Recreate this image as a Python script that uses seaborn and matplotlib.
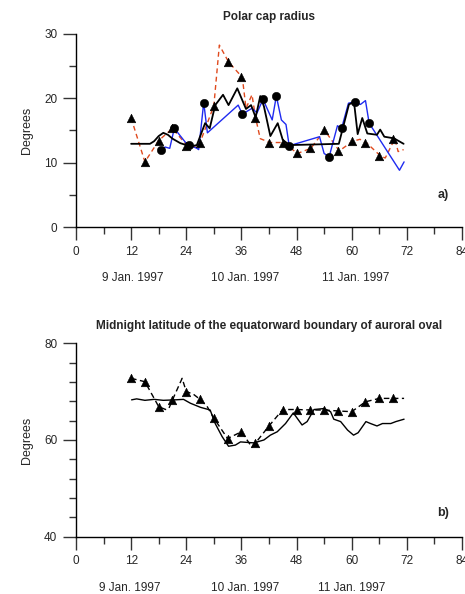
import numpy as np
import pandas as pd
import matplotlib
matplotlib.use("Agg")
import matplotlib.pyplot as plt
from matplotlib.ticker import MultipleLocator
import seaborn as sns

# ---------------- Panel a: polar cap radius (degrees) ----------------
# dashed red curve
red_t = [12, 15, 18, 21, 24.3, 26.3, 27, 30, 31.2, 33.2, 36.2, 37.0, 38.3, 39.1,
         40.1, 42.2, 45.2, 48.2, 51.1, 54.1, 57.3, 60.2, 61.8, 63.3, 66.3, 67.3,
         69.4, 70.1, 71.3]
red_v = [16.9, 10.1, 13.4, 15.3, 12.5, 12.4, 13.1, 18.8, 28.2, 25.6, 23.2, 18.4,
         20.5, 16.9, 13.7, 13.1, 13.1, 11.4, 12.2, 15.0, 11.8, 13.3, 13.6, 13.0,
         11.0, 10.7, 13.7, 11.7, 12.0]
# triangle markers (3-hourly)
tri_t = [12, 15, 18, 21, 24, 27, 30, 33, 36, 39, 42, 45, 48, 51, 54, 57, 60, 63, 66, 69]
tri_v = [16.9, 10.1, 13.4, 15.3, 12.6, 13.1, 18.8, 25.6, 23.2, 16.9, 13.1, 13.1,
         11.4, 12.2, 15.0, 11.8, 13.3, 13.0, 11.0, 13.7]
# blue curve
blue_t = [18.5, 19.4, 20.4, 21.4, 24.3, 24.7, 26.3, 26.7, 27.8, 28.6, 35.3, 36.2,
          38.3, 39.4, 40.7, 42.7, 43.6, 44.7, 45.7, 46.4, 53.0, 54.0, 55.1, 56.9,
          57.8, 59.3, 60.7, 61.9, 63.0, 63.8, 70.4, 71.4]
blue_v = [11.9, 12.4, 12.2, 15.3, 12.7, 12.7, 12.2, 12.0, 19.3, 14.6, 18.9, 17.5,
          18.4, 17.7, 19.8, 16.6, 20.3, 16.6, 15.9, 12.6, 14.0, 11.4, 10.9, 15.7,
          15.3, 19.2, 19.4, 19.0, 19.6, 16.1, 8.8, 10.1]
# circle markers
circ_t = [18.5, 21.4, 24.6, 27.8, 36.2, 40.7, 43.6, 46.4, 55.1, 57.8, 60.7, 63.8]
circ_v = [11.9, 15.3, 12.7, 19.3, 17.5, 19.8, 20.3, 12.6, 10.9, 15.3, 19.4, 16.1]
# black curve
blk_t = [12.0, 16.1, 17.0, 18.0, 19.0, 20.0, 21.0, 22.7, 24.9, 26.3, 28.1, 29.1,
         30.3, 32.0, 33.2, 35.1, 37.0, 38.1, 39.1, 40.1, 40.9, 42.3, 43.9, 45.0,
         46.5, 57.2, 59.4, 60.5, 61.3, 62.3, 63.4, 65.5, 66.2, 67.1, 69.2, 71.3]
blk_v = [12.9, 12.9, 13.3, 14.1, 14.6, 14.3, 13.7, 13.0, 12.5, 12.7, 16.1, 15.3,
         18.9, 20.5, 18.9, 21.5, 18.3, 18.9, 17.0, 20.3, 18.7, 14.1, 16.1, 13.5,
         12.7, 12.9, 19.0, 19.4, 14.4, 16.9, 14.5, 14.3, 15.1, 14.0, 13.75, 12.9]

# ---------------- Panel b: midnight equatorward boundary latitude ----------------
dash_t = [12, 15, 18, 19.5, 20.2, 21, 23.1, 24, 25.5, 27, 28.5, 30, 33, 36, 38.3,
          39, 42, 45, 48, 51, 54, 57, 60, 63, 66, 69, 71.4]
dash_v = [72.75, 72.05, 66.9, 66.3, 66.5, 68.3, 72.75, 70.0, 69.5, 68.4, 67.0, 64.5,
          60.3, 61.7, 58.5, 59.3, 62.9, 66.3, 66.3, 66.2, 66.2, 66.0, 65.85, 67.9,
          68.6, 68.6, 68.6]
btri_t = [12, 15, 18, 21, 24, 27, 30, 33, 36, 39, 42, 45, 48, 51, 54, 57, 60, 63, 66, 69]
btri_v = [72.75, 72.05, 66.9, 68.3, 70.0, 68.4, 64.5, 60.3, 61.7, 59.3, 62.9, 66.3,
          66.3, 66.2, 66.2, 66.0, 65.85, 67.9, 68.6, 68.6]
sol_t = [12.1, 13.2, 15.0, 17.0, 19.0, 21.6, 23.4, 24.9, 27.1, 29.2, 30.3, 31.8,
         33.2, 34.7, 35.8, 38.7, 40.9, 42.3, 43.8, 45.6, 47.3, 49.2, 50.3, 51.8,
         54.0, 55.4, 56.1, 57.6, 59.1, 60.4, 61.4, 63.1, 64.1, 65.5, 66.7, 68.5,
         69.6, 71.4]
sol_v = [68.3, 68.5, 68.2, 68.4, 68.2, 68.3, 68.4, 67.6, 66.75, 66.2, 63.4, 60.7,
         58.7, 58.95, 59.6, 59.4, 60.0, 61.0, 61.7, 63.4, 65.6, 63.1, 63.8, 66.3,
         66.5, 65.85, 64.3, 63.8, 62.05, 61.0, 61.5, 63.8, 63.4, 62.9, 63.4, 63.4,
         63.8, 64.3]

xticks = [0, 12, 24, 36, 48, 60, 72, 84]
day_labels = ["9 Jan. 1997", "10 Jan. 1997", "11 Jan. 1997"]
day_pos_a = [12.4, 36.9, 60.9]
day_pos_b = [11.8, 36.9, 60.0]

sns.set_theme(style="ticks")
plt.rcParams["font.family"] = ["Liberation Sans", "DejaVu Sans"]

fig = plt.figure(figsize=(4.65, 5.94), dpi=100)
ax1 = fig.add_axes([0.1634, 0.6178, 0.8301, 0.3258])
ax2 = fig.add_axes([0.1634, 0.0965, 0.8301, 0.3256])


def style_axes(ax, ymin, ymax, ymajor, yminor, title, tag, day_pos, tag_y):
    ax.set_xlim(0, 84)
    ax.set_ylim(ymin, ymax)
    ax.set_xticks(xticks)
    ax.xaxis.set_minor_locator(MultipleLocator(6))
    ax.yaxis.set_major_locator(MultipleLocator(ymajor))
    ax.yaxis.set_minor_locator(MultipleLocator(yminor))
    for s in ("top", "right"):
        ax.spines[s].set_visible(False)
    for s in ("left", "bottom"):
        ax.spines[s].set_linewidth(1.0)
        ax.spines[s].set_color("black")
    ax.tick_params(which="major", direction="out", length=9.5, width=1.0,
                   labelsize=8.5, color="#333333", pad=4)
    ax.tick_params(which="minor", direction="out", length=5, width=1.0, color="#333333")
    ax.set_xlabel("")
    ax.set_ylabel("Degrees", fontsize=9, labelpad=8)
    ax.set_title(title, fontsize=8.5, fontweight="bold", pad=10)
    for lbl, xp in zip(day_labels, day_pos):
        ax.text(xp, -0.265, lbl, transform=ax.get_xaxis_transform(),
                ha="center", va="center", fontsize=8.5)
    ax.text(0.951, tag_y, tag, transform=ax.transAxes, ha="center", va="center",
            fontsize=9, fontweight="bold")


# panel a
sns.lineplot(x=red_t, y=red_v, ax=ax1, color="#E04A1E", lw=1.0, sort=False,
             estimator=None, linestyle=(0, (3.5, 2.5)))
sns.lineplot(x=blue_t, y=blue_v, ax=ax1, color="#1F2BF0", lw=1.0, sort=False,
             estimator=None)
sns.lineplot(x=blk_t, y=blk_v, ax=ax1, color="black", lw=1.3, sort=False,
             estimator=None)
sns.scatterplot(x=tri_t, y=tri_v, ax=ax1, marker="^", s=38, color="black",
                edgecolor="black", linewidth=0.4, zorder=5)
sns.scatterplot(x=circ_t, y=circ_v, ax=ax1, marker="o", s=36, color="black",
                edgecolor="black", linewidth=0.4, zorder=5)
style_axes(ax1, 0, 30, 10, 5, "Polar cap radius", "a)", day_pos_a, 0.165)

# panel b
sns.lineplot(x=dash_t, y=dash_v, ax=ax2, color="black", lw=1.0, sort=False,
             estimator=None, linestyle=(0, (4, 2.5)))
sns.lineplot(x=sol_t, y=sol_v, ax=ax2, color="black", lw=1.0, sort=False,
             estimator=None)
sns.scatterplot(x=btri_t, y=btri_v, ax=ax2, marker="^", s=38, color="black",
                edgecolor="black", linewidth=0.4, zorder=5)
style_axes(ax2, 40, 80, 20, 4,
           "Midnight latitude of the equatorward boundary of auroral oval",
           "b)", day_pos_b, 0.122)

fig.savefig("out.png", dpi=100)
